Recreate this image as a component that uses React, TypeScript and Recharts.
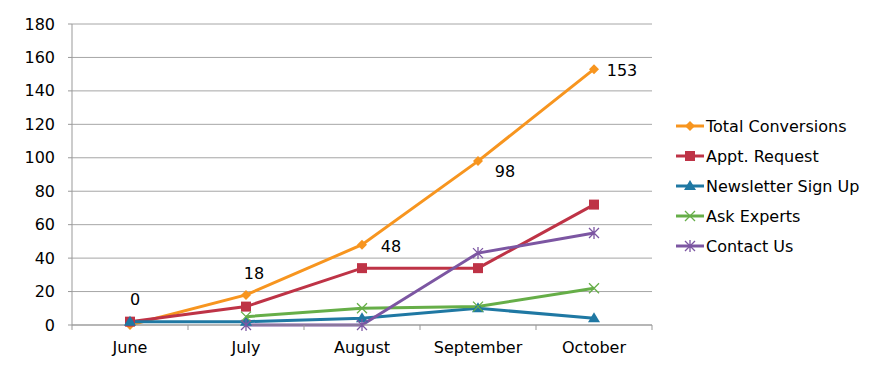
import React from 'react';
import { LineChart, Line, XAxis, YAxis, CartesianGrid } from 'recharts';

const months = ['June', 'July', 'August', 'September', 'October'];
const totalConversions = [0, 18, 48, 98, 153];
const apptRequest = [2, 11, 34, 34, 72];
const newsletterSignUp = [2, 2, 4, 10, 4];
const askExperts = [null, 5, 10, 11, 22];
const contactUs = [null, 0, 0, 43, 55];
const yTicks = [0, 20, 40, 60, 80, 100, 120, 140, 160, 180];

const data = months.map((m, i) => ({
  month: m,
  total: totalConversions[i],
  appt: apptRequest[i],
  newsletter: newsletterSignUp[i],
  ask: askExperts[i],
  contact: contactUs[i]
}));

const FONT = '"DejaVu Sans", Verdana, sans-serif';
const FONT_SIZE = 16;
const PLOT_LEFT = 72;
const PLOT_RIGHT = 652;
const BAND = (PLOT_RIGHT - PLOT_LEFT) / months.length;

type Marker = 'diamond' | 'square' | 'triangle' | 'cross' | 'star';

const series: { key: string; name: string; color: string; marker: Marker }[] = [
  { key: 'total', name: 'Total Conversions', color: '#F7951F', marker: 'diamond' },
  { key: 'appt', name: 'Appt. Request', color: '#BE3346', marker: 'square' },
  { key: 'newsletter', name: 'Newsletter Sign Up', color: '#1F78A3', marker: 'triangle' },
  { key: 'ask', name: 'Ask Experts', color: '#66AE48', marker: 'cross' },
  { key: 'contact', name: 'Contact Us', color: '#7C56A2', marker: 'star' }
];

// where the total labels sit relative to their point
const labelOffsets = [
  [5, -26],
  [8, -21],
  [29, 2],
  [27, 10],
  [28, 1]
];

const drawMarker = (marker: Marker, cx: number, cy: number, color: string, key?: string) => {
  switch (marker) {
    case 'diamond':
      return (
        <path key={key} d={`M${cx},${cy - 5}L${cx + 5},${cy}L${cx},${cy + 5}L${cx - 5},${cy}Z`} fill={color} />
      );
    case 'square':
      return <rect key={key} x={cx - 5} y={cy - 5} width={10} height={10} fill={color} />;
    case 'triangle':
      return (
        <path key={key} d={`M${cx},${cy - 6}L${cx + 6},${cy + 4}L${cx - 6},${cy + 4}Z`} fill={color} />
      );
    case 'cross':
      return (
        <path key={key} d={`M${cx - 5},${cy - 5}L${cx + 5},${cy + 5}M${cx + 5},${cy - 5}L${cx - 5},${cy + 5}`} stroke={color} strokeWidth={1.3} />
      );
    default:
      return (
        <path
          key={key}
          d={`M${cx - 5},${cy - 5}L${cx + 5},${cy + 5}M${cx + 5},${cy - 5}L${cx - 5},${cy + 5}M${cx},${cy - 6}L${cx},${cy + 6}`}
          stroke={color}
          strokeWidth={1.3}
        />
      );
  }
};

const makeDot = (marker: Marker, color: string) => (props: any) => {
  const { cx, cy, index, value } = props;
  if (cx == null || cy == null || value == null) return <g key={`d-${index}`} />;
  return drawMarker(marker, cx, cy, color, `d-${index}`);
};

const renderTotalLabel = (props: any) => {
  const { x, y, value, index } = props;
  const off = labelOffsets[index] || [0, -12];
  return (
    <text
      key={`l-${index}`}
      x={x + off[0]}
      y={y + off[1]}
      textAnchor="middle"
      dominantBaseline="central"
      fontFamily={FONT}
      fontSize={FONT_SIZE}
      fill="#000"
    >
      {value}
    </text>
  );
};

const XTick = (props: any) => {
  const { x, y, payload, index } = props;
  return (
    <g>
      <line x1={x + BAND / 2} x2={x + BAND / 2} y1={y} y2={y + 5} stroke="#999" />
      {index === 0 && <line x1={x - BAND / 2} x2={x - BAND / 2} y1={y} y2={y + 5} stroke="#999" />}
      <text x={x} y={y + 22} textAnchor="middle" dominantBaseline="central" fontFamily={FONT} fontSize={FONT_SIZE} fill="#000">
        {payload.value}
      </text>
    </g>
  );
};

const YTick = (props: any) => {
  const { x, y, payload } = props;
  return (
    <text x={x} y={y} textAnchor="end" dominantBaseline="central" fontFamily={FONT} fontSize={FONT_SIZE} fill="#000">
      {payload.value}
    </text>
  );
};

const ChartLegend = () => (
  <div style={{ position: 'absolute', left: 676, top: 111, fontFamily: FONT, fontSize: FONT_SIZE, color: '#000' }}>
    {series.map((s) => (
      <div key={s.key} style={{ display: 'flex', alignItems: 'center', height: 30 }}>
        <svg width={30} height={14} style={{ display: 'block' }}>
          <line x1={0} x2={28} y1={7} y2={7} stroke={s.color} strokeWidth={3} />
          {drawMarker(s.marker, 14, 7, s.color)}
        </svg>
        <span style={{ whiteSpace: 'nowrap' }}>{s.name}</span>
      </div>
    ))}
  </div>
);

const App = () => {
  return (
    <div style={{ position: 'absolute', left: 0, top: 0, width: 891, height: 370, background: '#fff' }}>
      <LineChart width={891} height={370} data={data} margin={{ top: 24, right: 239, left: 0, bottom: 15 }}>
        <CartesianGrid vertical={false} stroke="#A6A6A6" />
        <XAxis
          dataKey="month"
          height={30}
          stroke="#999"
          padding={{ left: BAND / 2, right: BAND / 2 }}
          tickLine={false}
          tickSize={0}
          tickMargin={0}
          interval={0}
          tick={<XTick />}
        />
        <YAxis
          width={72}
          domain={[0, 180]}
          ticks={yTicks}
          interval={0}
          stroke="#999"
          tickLine={{ stroke: '#999' }}
          tickSize={4}
          tickMargin={13}
          tick={<YTick />}
        />
        {series.map((s) => (
          <Line
            key={s.key}
            type="linear"
            dataKey={s.key}
            name={s.name}
            stroke={s.color}
            strokeWidth={3}
            dot={makeDot(s.marker, s.color)}
            activeDot={false}
            label={s.key === 'total' ? renderTotalLabel : undefined}
            isAnimationActive={false}
          />
        ))}
      </LineChart>
      <ChartLegend />
    </div>
  );
};

export default App;
